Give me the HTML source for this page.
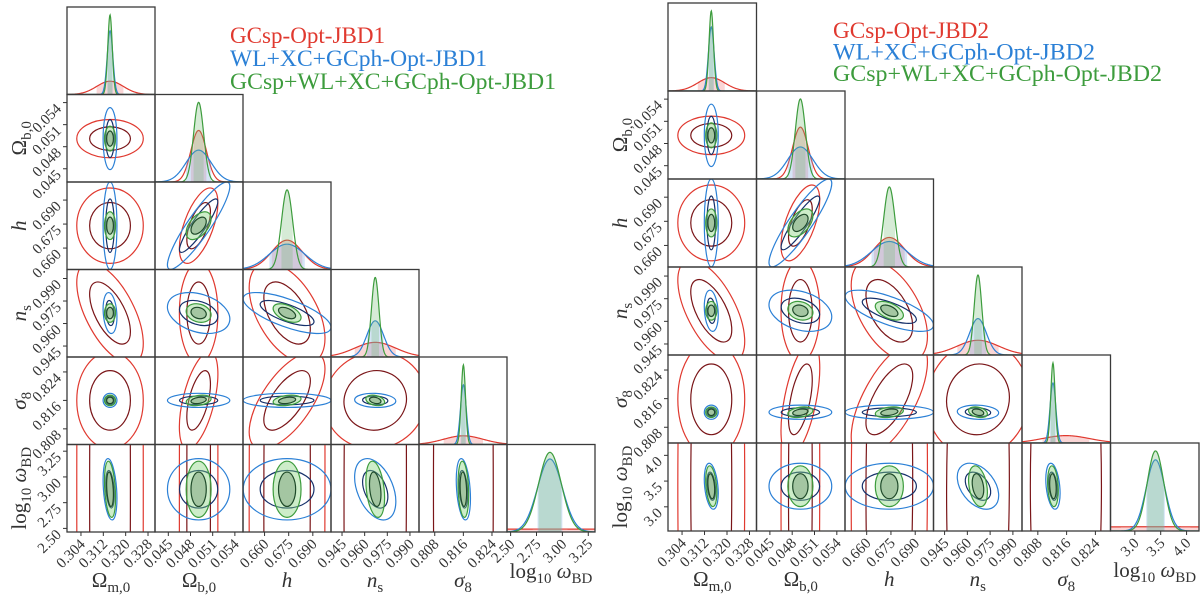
<!DOCTYPE html>
<html><head><meta charset="utf-8"><style>
html,body{margin:0;padding:0;background:#fff;overflow:hidden;}
svg{display:block;font-family:"Liberation Serif","DejaVu Serif",serif;}
</style></head><body>
<svg id="fig" width="1200" height="599" viewBox="0 0 1200 599" xmlns="http://www.w3.org/2000/svg"></svg>
<script>
// ---------- data ----------
const paramNames = ["Om","Ob","h","ns","s8","lw"];
const leftLo  = [0.299, 0.0432, 0.6466, 0.9377, 0.8036, 2.465];
const leftHi  = [0.3305,0.0551, 0.7013, 0.9960, 0.8282, 3.315];
const rightLo = [0.299, 0.0432, 0.6466, 0.9377, 0.8036, 2.53];
const rightHi = [0.3305,0.0551, 0.7013, 0.9960, 0.8282, 4.24];
const ticksOm = [0.304,0.312,0.320,0.328];
const ticksOb = [0.045,0.048,0.051,0.054];
const ticksH  = [0.660,0.675,0.690];
const ticksNs = [0.945,0.960,0.975,0.990];
const ticksS8 = [0.808,0.816,0.824];
const ticksLwLeft  = [2.50,2.75,3.00,3.25];
const ticksLwRight = [3.0,3.5,4.0];
const tickLabOm = ["0.304","0.312","0.320","0.328"];
const tickLabOb = ["0.045","0.048","0.051","0.054"];
const tickLabH  = ["0.660","0.675","0.690"];
const tickLabNs = ["0.945","0.960","0.975","0.990"];
const tickLabS8 = ["0.808","0.816","0.824"];
const tickLabLwLeft  = ["2.50","2.75","3.00","3.25"];
const tickLabLwRight = ["3.0","3.5","4.0"];
const leftMeanRed    = [0.3144,0.0491,0.674,0.967,0.816,2.88];
const leftMeanBlue   = [0.3144,0.0491,0.674,0.967,0.816,2.88];
const leftMeanGreen  = [0.3144,0.0491,0.674,0.967,0.816,2.88];
const rightMeanRed   = [0.3144,0.0491,0.674,0.967,0.8158,3.40];
const rightMeanBlue  = [0.3144,0.0491,0.674,0.967,0.8122,3.40];
const rightMeanGreen = [0.3144,0.0491,0.674,0.967,0.8122,3.40];
const leftSigRed    = [0.0048,0.00105,0.0095,0.0136,0.0055,3.0];
const leftSigBlue   = [0.0010,0.0017,0.011,0.0055,0.0008,0.12];
const leftSigGreen  = [0.0008,0.00068,0.0035,0.0025,0.0006,0.11];
const rightSigRed   = [0.0048,0.00105,0.0095,0.0136,0.0065,3.0];
const rightSigBlue  = [0.0010,0.0017,0.011,0.0055,0.0008,0.18];
const rightSigGreen = [0.0008,0.00068,0.0035,0.0025,0.0006,0.16];
const corrRed   = [[0,1,0],[0,2,0],[1,2,0.6],[0,3,-0.6],[1,3,0],[2,3,-0.5],[0,4,0],[1,4,0.55],[2,4,0.65],[3,4,0.05],[0,5,0.002],[1,5,0.02],[2,5,0.03],[3,5,0.03],[4,5,0.0]];
const corrBlue  = [[0,1,0],[0,2,0],[1,2,0.9],[0,3,-0.2],[1,3,-0.3],[2,3,-0.7],[0,4,0],[1,4,0],[2,4,0],[3,4,-0.1],[0,5,-0.3],[1,5,0],[2,5,0],[3,5,-0.4],[4,5,-0.3]];
const corrGreen = [[0,1,0],[0,2,0],[1,2,0.5],[0,3,0],[1,3,-0.2],[2,3,-0.5],[0,4,0],[1,4,0.3],[2,4,0.3],[3,4,-0.3],[0,5,-0.3],[1,5,0],[2,5,0],[3,5,-0.3],[4,5,-0.2]];
const legendLeft  = ["GCsp-Opt-JBD1","WL+XC+GCph-Opt-JBD1","GCsp+WL+XC+GCph-Opt-JBD1"];
const legendRight = ["GCsp-Opt-JBD2","WL+XC+GCph-Opt-JBD2","GCsp+WL+XC+GCph-Opt-JBD2"];

// ---------- drawing ----------
const NS="http://www.w3.org/2000/svg";
const svg=document.getElementById('fig');
function mk(tag,attrs,parent){const e=document.createElementNS(NS,tag);for(const k in attrs)e.setAttribute(k,attrs[k]);(parent||svg).appendChild(e);return e;}
const styles=[
 {line:"#e0392f",inner:"#7a1518",fo:"none",fi:"none",band:"rgba(240,120,120,0.3)"},
 {line:"#2b80d6",inner:"#15306a",fo:"none",fi:"none",band:"rgba(120,170,230,0.3)"},
 {line:"#3d9c3d",inner:"#1f4a2a",fo:"rgba(130,210,120,0.4)",fi:"rgba(90,125,90,0.35)",band:"rgba(120,190,120,0.3)"}
];
const dsNames=["gcsp","wl-xc-gcph","combined"];
let clipId=0;
function panel(p){
 const {x0,y0,cw,ch,lo,hi,means,sigs,ticksArr,labsArr,legend,lx,ly,lsp,lw,side}=p;
 const sx=(c,v)=>x0+c*cw+(v-lo[c])/(hi[c]-lo[c])*cw;
 const sy=(r,v)=>y0+r*ch+(hi[r]-v)/(hi[r]-lo[r])*ch;
 const corrs=[corrRed,corrBlue,corrGreen];
 const g=mk('g',{});
 
 
 for(let r=0;r<6;r++)for(let c=0;c<=r;c++){
  const cx0=x0+c*cw, cy0=y0+r*ch;
  const id='cl'+(clipId++);
  const cp=mk('clipPath',{id:id},g); mk('rect',{x:cx0,y:cy0,width:cw,height:ch},cp);
  const cell=mk('g',{'clip-path':'url(#'+id+')'},g);
  
  
  if(r===c){
   const smin=Math.min(...sigs.map(s=>s[c]));
   for(let d=0;d<3;d++){
    const m=means[d][c],s=sigs[d][c];
    const H=0.91*ch*smin/s;
    const base=cy0+ch;
    let pts=[],band=[];
    for(let k=0;k<=200;k++){
     const v=lo[c]+(hi[c]-lo[c])*k/200;
     const y=base-H*Math.exp(-0.5*((v-m)/s)**2);
     pts.push(sx(c,v).toFixed(2)+','+y.toFixed(2));
    }
    for(let k=0;k<=60;k++){
     const v=m-s+2*s*k/60;
     band.push(sx(c,v).toFixed(2)+','+(base-H*Math.exp(-0.5*((v-m)/s)**2)).toFixed(2));
    }
    const bp=mk('polygon',{points:sx(c,m-s)+','+base+' '+band.join(' ')+' '+sx(c,m+s)+','+base,fill:styles[d].band,stroke:'none'},cell);
    
    
    const pl=mk('polyline',{points:pts.join(' '),fill:'none',stroke:styles[d].line,'stroke-width':1.2},cell);
    
    
   }
  } else {
   for(let d=0;d<3;d++){
    const ent=corrs[d].find(e=>e[0]===c&&e[1]===r);
    const rho=ent?ent[2]:0;
    const a=sigs[d][c]/(hi[c]-lo[c])*cw, b=sigs[d][r]/(hi[r]-lo[r])*ch;
    const cv=-rho*a*b;
    const tr=(a*a+b*b)/2, df=(a*a-b*b)/2, q=Math.sqrt(df*df+cv*cv);
    const l1=tr+q, l2=Math.max((a*a*b*b-cv*cv)/l1,1e-6);
    const th=0.5*Math.atan2(2*cv,a*a-b*b)*180/Math.PI;
    const ex=sx(c,means[d][c]), ey=sy(r,means[d][r]);
    const levels=[[2.48,styles[d].line,styles[d].fo,'95'],[1.52,styles[d].inner,styles[d].fi,'68']];
    for(const [k,col,fill,lab] of levels){
     const e=mk('ellipse',{cx:ex,cy:ey,rx:k*Math.sqrt(l1),ry:k*Math.sqrt(l2),transform:'rotate('+th+' '+ex+' '+ey+')',fill:fill,stroke:col,'stroke-width':1.2},cell);
     
     
    }
   }
  }
  mk('rect',{x:cx0,y:cy0,width:cw,height:ch,fill:'none',stroke:'#3a3a3a','stroke-width':1.3},g);
 }
 const yb=y0+6*ch;
 for(let c=0;c<6;c++){
  ticksArr[c].forEach((v,i)=>{
   const x=sx(c,v);
   mk('line',{x1:x,y1:yb,x2:x,y2:yb+4,stroke:'#333','stroke-width':1},g);
   const t=mk('text',{x:x+5,y:yb+13,'text-anchor':'end','font-size':15,fill:'#333',transform:'rotate(-45 '+(x+5)+' '+(yb+13)+')'},g);
   t.textContent=labsArr[c][i];
   
   
  });
 }
 for(let r=1;r<6;r++){
  ticksArr[r].forEach((v,i)=>{
   const y=sy(r,v);
   mk('line',{x1:x0-4,y1:y,x2:x0,y2:y,stroke:'#333','stroke-width':1},g);
   const t=mk('text',{x:x0-5,y:y+7,'text-anchor':'end','font-size':15,fill:'#333',transform:'rotate(-45 '+(x0-5)+' '+(y+7)+')'},g);
   t.textContent=labsArr[r][i];
   
   
  });
 }
 for(let c=0;c<6;c++){
  const cx=x0+c*cw+cw/2;
  const isLw=c===5;
  const t=mk('text',{x:cx,y:isLw?y0+6*ch+46:y0+6*ch+55,'text-anchor':'middle','font-size':21,fill:'#333'},g);
  
  
  fillTitle(t,c);
 }
 for(let r=1;r<6;r++){
  const cy=y0+r*ch+ch/2;
  const tx=side==='left'?26:627;
  const t=mk('text',{x:tx,y:cy,'text-anchor':'middle','font-size':21,fill:'#333',transform:'rotate(-90 '+tx+' '+cy+')'},g);
  
  
  fillTitle(t,r);
 }
 const cols=[styles[0].line,styles[1].line,styles[2].line];
 legend.forEach((s,i)=>{
  const t=mk('text',{x:lx,y:ly+i*lsp,'font-size':23,fill:cols[i],textLength:lw[i],lengthAdjust:'spacingAndGlyphs'},g);
  t.textContent=s;
  
  
 });
}
function fillTitle(t,c){
 const parts={0:[['Ω',''],['m,0','sub']],1:[['Ω',''],['b,0','sub']],2:[['h','it']],3:[['n','it'],['s','sub']],4:[['σ','it'],['8','sub']],5:[['log',''],['10','sub'],[' ω','it'],['BD','sub']]}[c];
 let prevSub=false;
 parts.forEach(([s,k])=>{
  const ts=document.createElementNS(NS,'tspan');
  ts.textContent=s;
  if(k==='it')ts.setAttribute('font-style','italic');
  if(k==='sub'){ts.setAttribute('font-size','15');ts.setAttribute('dy','5');prevSub=true;}
  else if(prevSub){ts.setAttribute('dy','-5');prevSub=false;}
  t.appendChild(ts);
 });
}
const ticksL=[ticksOm,ticksOb,ticksH,ticksNs,ticksS8,ticksLwLeft];
const ticksR=[ticksOm,ticksOb,ticksH,ticksNs,ticksS8,ticksLwRight];
const labsL=[tickLabOm,tickLabOb,tickLabH,tickLabNs,tickLabS8,tickLabLwLeft];
const labsR=[tickLabOm,tickLabOb,tickLabH,tickLabNs,tickLabS8,tickLabLwRight];
panel({side:'left',x0:67,y0:7,cw:88,ch:87.5,lo:leftLo,hi:leftHi,means:[leftMeanRed,leftMeanBlue,leftMeanGreen],sigs:[leftSigRed,leftSigBlue,leftSigGreen],ticksArr:ticksL,labsArr:labsL,legend:legendLeft,lx:230,ly:43,lsp:23,lw:[155,257,326]});
panel({side:'right',x0:668,y0:3,cw:88.5,ch:88,lo:rightLo,hi:rightHi,means:[rightMeanRed,rightMeanBlue,rightMeanGreen],sigs:[rightSigRed,rightSigBlue,rightSigGreen],ticksArr:ticksR,labsArr:labsR,legend:legendRight,lx:833,ly:38,lsp:21.5,lw:[156,262,329]});
</script>
</body></html>
